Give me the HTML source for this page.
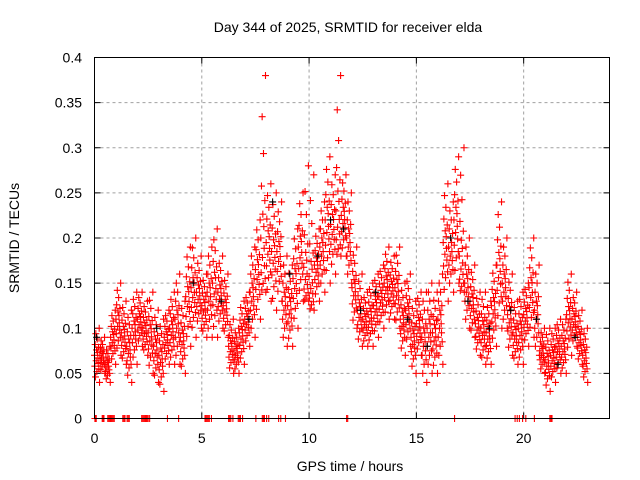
<!DOCTYPE html>
<html><head><meta charset="utf-8"><style>
body{margin:0;background:#fff}
svg{display:block;font-family:"Liberation Sans",sans-serif}
</style></head><body>
<svg id="chart" width="640" height="480" viewBox="0 0 640 480">
<text x="348" y="32" font-size="14" text-anchor="middle">Day 344 of 2025, SRMTID for receiver elda</text>
<text transform="translate(19,238) rotate(-90)" font-size="14" text-anchor="middle">SRMTID / TECUs</text>
<text x="350" y="471" font-size="14" text-anchor="middle">GPS time / hours</text>
<g id="grid"></g>
<g id="ticks"></g>
<g id="marks"></g>
<rect x="94.5" y="57.5" width="515" height="361" fill="none" stroke="#000" stroke-width="1"/>
</svg>
<script>
const binHours=[0,0.25,0.5,0.75,1,1.25,1.5,1.75,2,2.25,2.5,2.75,3,3.25,3.5,3.75,4,4.25,4.5,4.75,5,5.25,5.5,5.75,6,6.25,6.5,6.75,7,7.25,7.5,7.75,8,8.25,8.5,8.75,9,9.25,9.5,9.75,10,10.25,10.5,10.75,11,11.25,11.5,11.75,12,12.25,12.5,12.75,13,13.25,13.5,13.75,14,14.25,14.5,14.75,15,15.25,15.5,15.75,16,16.25,16.5,16.75,17,17.25,17.5,17.75,18,18.25,18.5,18.75,19,19.25,19.5,19.75,20,20.25,20.5,20.75,21,21.25,21.5,21.75,22,22.25,22.5,22.75];
const lowValues=[0.04,0.05,0.04,0.06,0.07,0.06,0.04,0.06,0.08,0.07,0.05,0.04,0.03,0.06,0.06,0.06,0.05,0.08,0.09,0.10,0.09,0.09,0.09,0.10,0.09,0.05,0.05,0.06,0.08,0.09,0.11,0.14,0.13,0.12,0.13,0.08,0.08,0.10,0.13,0.13,0.12,0.13,0.14,0.15,0.16,0.18,0.18,0.15,0.10,0.08,0.08,0.08,0.09,0.10,0.11,0.11,0.10,0.07,0.08,0.05,0.07,0.04,0.05,0.05,0.06,0.13,0.14,0.15,0.14,0.10,0.09,0.07,0.06,0.06,0.08,0.10,0.10,0.07,0.06,0.06,0.08,0.09,0.07,0.05,0.03,0.04,0.05,0.05,0.07,0.08,0.06,0.04];
const highValues=[0.10,0.09,0.08,0.12,0.15,0.13,0.12,0.14,0.14,0.13,0.14,0.12,0.11,0.12,0.14,0.16,0.13,0.19,0.20,0.18,0.16,0.19,0.21,0.18,0.16,0.11,0.10,0.13,0.14,0.19,0.22,0.38,0.26,0.25,0.24,0.18,0.17,0.21,0.25,0.28,0.27,0.21,0.24,0.29,0.27,0.38,0.27,0.25,0.19,0.16,0.14,0.15,0.16,0.17,0.19,0.18,0.19,0.15,0.16,0.13,0.14,0.14,0.15,0.14,0.16,0.26,0.24,0.29,0.30,0.20,0.17,0.14,0.14,0.13,0.17,0.24,0.20,0.16,0.13,0.14,0.15,0.20,0.17,0.10,0.10,0.10,0.11,0.11,0.16,0.14,0.12,0.10];
const zeroHours=[0.02,0.06,0.08,0.36,0.4,0.44,0.62,0.67,0.72,0.77,0.82,0.87,0.92,1.32,1.37,1.42,1.52,1.57,1.62,2.2,2.25,2.3,2.35,2.4,2.45,2.5,2.57,3.4,3.92,5.15,5.2,5.25,5.3,5.35,5.45,6.25,6.3,6.35,6.45,6.7,6.75,6.8,6.9,7.52,7.82,7.87,7.92,8.02,8.12,8.58,8.68,8.9,11.75,11.8,16.78,19.6,19.7,19.8,19.95,20.1,20.5,21.22,21.27,21.32];
const blackHours=[0.1,2.9,4.6,5.9,7.2,8.3,9.1,10.4,11.0,11.6,12.4,13.1,14.6,15.5,16.6,17.4,18.4,19.4,20.6,21.6,22.4];
const blackValues=[0.09,0.10,0.15,0.13,0.11,0.24,0.16,0.18,0.22,0.21,0.12,0.14,0.11,0.08,0.20,0.13,0.10,0.12,0.11,0.06,0.09];
const xTicks=[0,5,10,15,20];
const yTicks=[0,0.05,0.1,0.15,0.2,0.25,0.3,0.35,0.4];
const yTickLabels=["0","0.05","0.1","0.15","0.2","0.25","0.3","0.35","0.4"];

const NS="http://www.w3.org/2000/svg";
const X0=94.5,X1=609.5,Y0=418.5,Y1=57.5;
function sx(h){return X0+(h/24)*(X1-X0);}
function sy(v){return Y0-(v/0.4)*(Y0-Y1);}
function mk(tag,attrs,parent){const e=document.createElementNS(NS,tag);for(const k in attrs)e.setAttribute(k,attrs[k]);parent.appendChild(e);return e;}
const grid=document.getElementById('grid'),ticks=document.getElementById('ticks'),marks=document.getElementById('marks');
xTicks.forEach((t,i)=>{
  const x=sx(t);
  if(t>0){const g=mk('line',{x1:x,x2:x,y1:Y1,y2:Y0,stroke:'#a0a0a0','stroke-dasharray':'3,3'},grid);
  
  }
  mk('line',{x1:x,x2:x,y1:Y0,y2:Y0-6,stroke:'#000'},ticks);
  mk('line',{x1:x,x2:x,y1:Y1,y2:Y1+6,stroke:'#000'},ticks);
  const l=mk('text',{x:x,y:443,'font-size':14,'text-anchor':'middle'},ticks);
  l.textContent=String(t);
  
  
});
yTicks.forEach((t,i)=>{
  const y=sy(t);
  if(t>0&&t<0.4){const g=mk('line',{x1:X0,x2:X1,y1:y,y2:y,stroke:'#a0a0a0','stroke-dasharray':'3,3'},grid);
  
  }
  mk('line',{x1:X0,x2:X0+6,y1:y,y2:y,stroke:'#000'},ticks);
  mk('line',{x1:X1,x2:X1-6,y1:y,y2:y,stroke:'#000'},ticks);
  const l=mk('text',{x:82,y:y+5,'font-size':14,'text-anchor':'end'},ticks);
  l.textContent=yTickLabels[i];
  
  
});
function plus(h,v,color){
  const x=sx(h),y=sy(v);
  const p=mk('path',{d:`M${x-3.5},${y}h7M${x},${y-3.5}v7`,stroke:color,'stroke-width':1.1,fill:'none'},marks);
  
  
}
const fr=[0.5,0.3,0.7,0.1,0.9,0.4,0.6,0.2,0.8,0.55,0.45,0.35,0.65,0.25,1.0,0.0];
binHours.forEach((h,i)=>{
  const lo=lowValues[i],hi=highValues[i];
  fr.forEach((f,k)=>{
    const skew=(hi-lo>0.15)?f*f:f;
    plus(h+k*0.25/fr.length,lo+(hi-lo)*skew,'#ff0000');
  });
});
blackHours.forEach((h,i)=>plus(h,blackValues[i],'#000'));
zeroHours.forEach(h=>plus(h,0,'#ff0000'));
</script>
</body></html>
